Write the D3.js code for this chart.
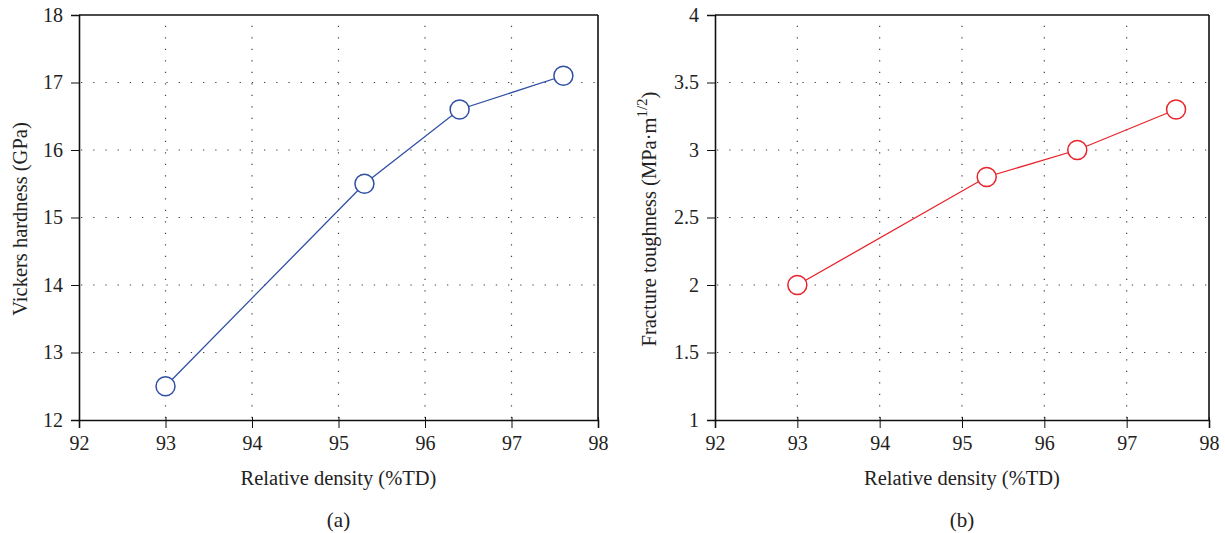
<!DOCTYPE html>
<html>
<head>
<meta charset="utf-8">
<script src="https://cdn.jsdelivr.net/npm/d3@7"></script>
<style>
  body { margin: 0; background: #fff; }
  text { font-family: "Liberation Serif", "DejaVu Serif", serif; fill: #222; }
</style>
</head>
<body>
<div id="container"></div>
<script>
"use strict";

// data
const density = [93, 95.3, 96.4, 97.6];
const hardness = [12.5, 15.5, 16.6, 17.1];
const toughness = [2.0, 2.8, 3.0, 3.3];

const xTicks = [92, 93, 94, 95, 96, 97, 98];
const hardTicks = [12, 13, 14, 15, 16, 17, 18];
const toughTicks = [1, 1.5, 2, 2.5, 3, 3.5, 4];

const svg = d3.select("#container")
    .append("svg")
    .attr("width", 1225)
    .attr("height", 533);

function panel(opts) {
  const g = svg.append("g");
  const x = d3.scaleLinear().domain([92, 98]).range([opts.left, opts.right]);
  const y = d3.scaleLinear().domain(opts.yDomain).range([420, 15]);

  // dotted grid
  g.append("g").selectAll("line.vg")
    .data(xTicks.slice(1, -1)).enter()
    .append("line")
      .attr("x1", d => x(d)).attr("x2", d => x(d))
      .attr("y1", 418).attr("y2", 17)
      .attr("stroke", "#444").attr("stroke-width", 1.2)
      .attr("stroke-dasharray", "1.3,10.2");
  g.append("g").selectAll("line.hg")
    .data(opts.yTicks.slice(1, -1)).enter()
    .append("line")
      .attr("x1", opts.left + 2).attr("x2", opts.right)
      .attr("y1", d => y(d)).attr("y2", d => y(d))
      .attr("stroke", "#444").attr("stroke-width", 1.2)
      .attr("stroke-dasharray", "1.3,10.9");

  // axes
  const xAxis = g.append("g")
    .attr("transform", "translate(0,420)")
    .call(d3.axisBottom(x).tickValues(xTicks).tickFormat(d3.format("d")).tickSize(8).tickPadding(8));
  xAxis.selectAll(".tick line").attr("y1", -3).attr("stroke", "#111");
  const yAxis = g.append("g")
    .attr("transform", `translate(${opts.left},0)`)
    .call(d3.axisLeft(y).tickValues(opts.yTicks).tickFormat(d3.format("")).tickSize(8).tickPadding(8));
  yAxis.selectAll(".tick line").attr("stroke", "#111");
  g.selectAll(".domain").attr("stroke", "#111").attr("stroke-width", 1.6);
  g.selectAll(".tick text").style("font-size", "20px").attr("fill", "#222");

  // top and right frame
  g.append("line")
    .attr("x1", opts.left).attr("x2", opts.right)
    .attr("y1", 15).attr("y2", 15)
    .attr("stroke", "#111").attr("stroke-width", 1.6);
  g.append("line")
    .attr("x1", opts.right).attr("x2", opts.right)
    .attr("y1", 15).attr("y2", 420)
    .attr("stroke", "#111").attr("stroke-width", 1.6);

  // line + markers
  const pts = density.map((d, i) => [d, opts.values[i]]);
  g.append("path")
    .datum(pts)
    .attr("fill", "none")
    .attr("stroke", opts.color)
    .attr("stroke-width", 1.3)
    .attr("d", d3.line().x(d => x(d[0])).y(d => y(d[1])));
  g.selectAll("circle")
    .data(pts).enter()
    .append("circle")
      .attr("cx", d => x(d[0]))
      .attr("cy", d => y(d[1]))
      .attr("r", 9.5)
      .attr("fill", "#fff")
      .attr("stroke", opts.color)
      .attr("stroke-width", 1.5);

  // labels
  g.append("text")
    .attr("x", (opts.left + opts.right) / 2)
    .attr("y", 485)
    .attr("text-anchor", "middle")
    .style("font-size", "20.5px")
    .text("Relative density (%TD)");
  g.append("text")
    .attr("x", (opts.left + opts.right) / 2)
    .attr("y", 527)
    .attr("text-anchor", "middle")
    .style("font-size", "21px")
    .text(opts.tag);

  const yl = g.append("text")
    .attr("transform", `translate(${opts.ylabX},219) rotate(-90)`)
    .attr("text-anchor", "middle")
    .style("font-size", "20.5px");
  yl.append("tspan").text(opts.ylabel);
  if (opts.sup) {
    yl.append("tspan").attr("dy", -9).style("font-size", "15px").text(opts.sup);
    yl.append("tspan").attr("dy", 9).text(")");
  }
}

panel({
  left: 79, right: 598, yDomain: [12, 18], yTicks: hardTicks,
  values: hardness, color: "#2f4fa3", tag: "(a)",
  ylabel: "Vickers hardness (GPa)", ylabX: 27
});
panel({
  left: 715, right: 1209, yDomain: [1, 4], yTicks: toughTicks,
  values: toughness, color: "#e8232b", tag: "(b)",
  ylabel: "Fracture toughness (MPa·m", sup: "1/2", ylabX: 656
});
</script>
</body>
</html>
